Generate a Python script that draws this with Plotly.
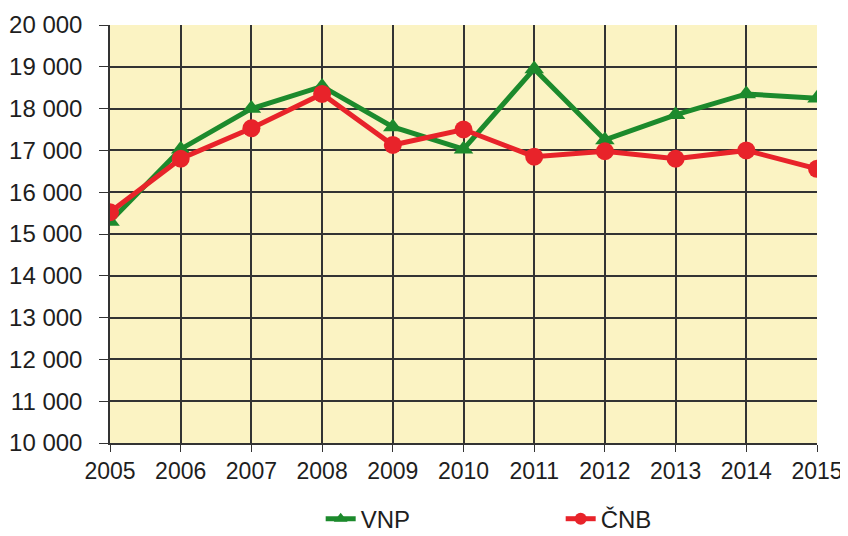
import plotly.graph_objects as go

# data
years = [2005, 2006, 2007, 2008, 2009, 2010, 2011, 2012, 2013, 2014, 2015]
vnp = [15300, 17030, 18000, 18530, 17560, 17030, 18950, 17250, 17850, 18350, 18250]
cnb = [15520, 16800, 17530, 18350, 17130, 17500, 16850, 16980, 16800, 17000, 16560]

green = "#1c8a2c"
red = "#e8232a"

fig = go.Figure()
fig.add_trace(go.Scatter(
    x=years, y=vnp, name="VNP", mode="lines+markers",
    line=dict(color=green, width=5),
    marker=dict(symbol="triangle-up", size=17, color=green),
))
fig.add_trace(go.Scatter(
    x=years, y=cnb, name="ČNB", mode="lines+markers",
    line=dict(color=red, width=5),
    marker=dict(symbol="circle", size=18, color=red),
))

# page body has an 8px margin, so the figure is a bit smaller than the window
fig.update_layout(
    width=840, height=528,
    margin=dict(l=102, r=31, t=17, b=93),
    paper_bgcolor="white",
    plot_bgcolor="#fbf3c3",
    separators=", ",
    font=dict(family="Liberation Sans, Arial, sans-serif", size=24, color="#1e1e1e"),
    showlegend=True,
    legend=dict(
        orientation="h", x=0.298, xanchor="left",
        yref="container", y=0.032, yanchor="middle",
        entrywidth=195, itemsizing="constant",
        font=dict(size=24),
    ),
)
fig.update_xaxes(
    range=[2005, 2015], tickvals=years, ticktext=[str(y) for y in years],
    showgrid=True, gridcolor="#333333", gridwidth=1.5,
    showline=True, linecolor="#333333", linewidth=1.5,
    ticks="outside", ticklen=7, tickcolor="#333333", zeroline=False,
    automargin=False, tickfont=dict(size=23),
)
fig.update_yaxes(
    range=[10000, 20000], dtick=1000, tickformat=",d",
    showgrid=True, gridcolor="#333333", gridwidth=1.5,
    showline=True, linecolor="#333333", linewidth=1.5,
    ticks="outside", ticklen=9, tickcolor="#333333", zeroline=False,
    automargin=False, tickfont=dict(size=24), ticklabelstandoff=12,
)

fig.write_html("out.html")
